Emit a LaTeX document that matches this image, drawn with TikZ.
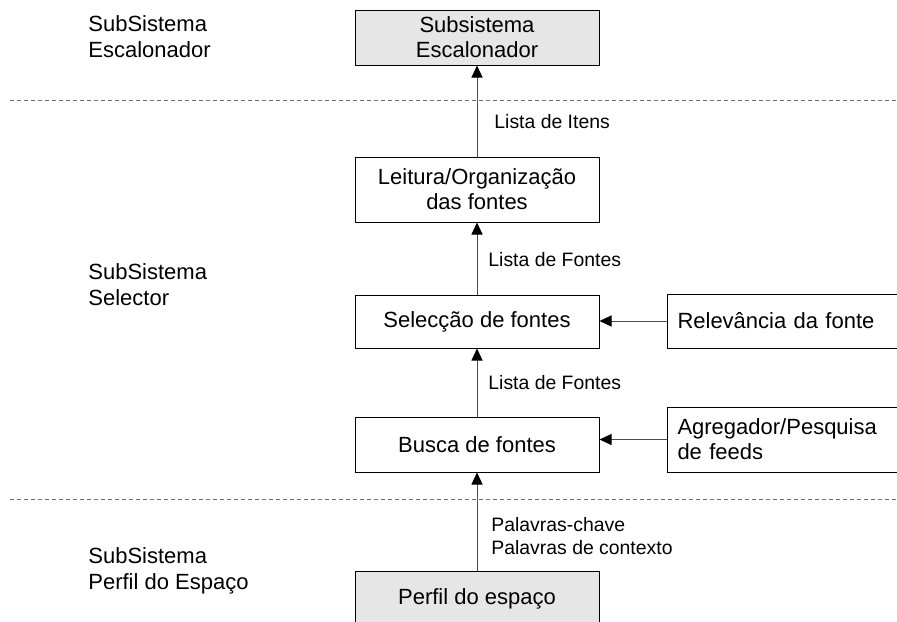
\documentclass[tikz,border=0pt]{standalone}
\usepackage{fontspec}
\setmainfont{Liberation Sans}
\usetikzlibrary{arrows.meta, shadows}

\definecolor{boxgray}{RGB}{230,230,230}

\begin{document}
\begin{tikzpicture}[x=0.5pt, y=-0.5pt,
    subbox/.style={draw, line width=0.5pt, minimum width=122pt, inner sep=0pt,
      align=center, font=\fontsize{11}{12.6}\selectfont,
      general shadow={fill=black, shadow xshift=0.5pt, shadow yshift=-0.5pt}},
    sidebox/.style={subbox, text width=112pt, inner xsep=5pt, align=left},
    graybox/.style={subbox, fill=boxgray},
    whitebox/.style={subbox, fill=white},
    arr/.style={draw=black!70, line width=0.5pt, -{Triangle[length=6pt, width=5.5pt, black]}},
    sepline/.style={draw=black!55, line width=0.5pt, dash pattern=on 2pt off 1.5pt},
    flowlabel/.style={anchor=west, inner sep=0pt, align=left, font=\fontsize{9.7}{11.6}\selectfont},
    layerlabel/.style={anchor=west, inner sep=0pt, align=left, font=\fontsize{11}{13}\selectfont}]

    \useasboundingbox (0,0) rectangle (897,621);
    \clip (0,0) rectangle (897,621);

    \coordinate (S1a) at (10,100);
    \coordinate (S1b) at (897,100);
    \coordinate (S2a) at (10,499);
    \coordinate (S2b) at (897,499);

    \draw[sepline] (S1a) -- (S1b);
    \draw[sepline] (S2a) -- (S2b);

    \node[graybox, minimum height=27.5pt] (escal) at (477,37.5) {Subsistema\\Escalonador};
    \node[whitebox, minimum height=32.5pt] (leitura) at (477,189.5) {Leitura/Organização\\das fontes};
    \node[whitebox, minimum height=26.5pt] (selec) at (477,321.5) {Selecção de fontes};
    \node[whitebox, minimum height=27.5pt] (busca) at (477,444.5) {Busca de fontes};
    \node[graybox, minimum height=27.5pt] (perfil) at (477,598.5) {Perfil do espaço};

    \node[sidebox, fill=white, minimum height=27pt, anchor=west] (relev) at (667,321) {Relevância da fonte};
    \node[sidebox, fill=white, minimum height=32.5pt, anchor=west] (agreg) at (667,439.5) {Agregador/Pesquisa\\de feeds};

    \draw[arr] (leitura) -- (escal);
    \draw[arr] (selec) -- (leitura);
    \draw[arr] (busca) -- (selec);
    \draw[arr] (perfil) -- (busca);
    \draw[arr] (relev.west) -- (relev.west -| selec.east);
    \draw[arr] (agreg.west) -- (agreg.west -| busca.east);

    \node[flowlabel] (itens) at (494,122) {Lista de Itens};
    \node[flowlabel] (fontes1) at (488,260) {Lista de Fontes};
    \node[flowlabel] (fontes2) at (488,383) {Lista de Fontes};
    \node[flowlabel] (palavras) at (491,536) {Palavras-chave\\Palavras de contexto};

    \node[layerlabel] (lescal) at (88,37) {SubSistema\\Escalonador};
    \node[layerlabel] (lselec) at (88,285) {SubSistema\\Selector};
    \node[layerlabel] (lperfil) at (88,571) {SubSistema\\Perfil do Espaço};
\end{tikzpicture}
\end{document}
